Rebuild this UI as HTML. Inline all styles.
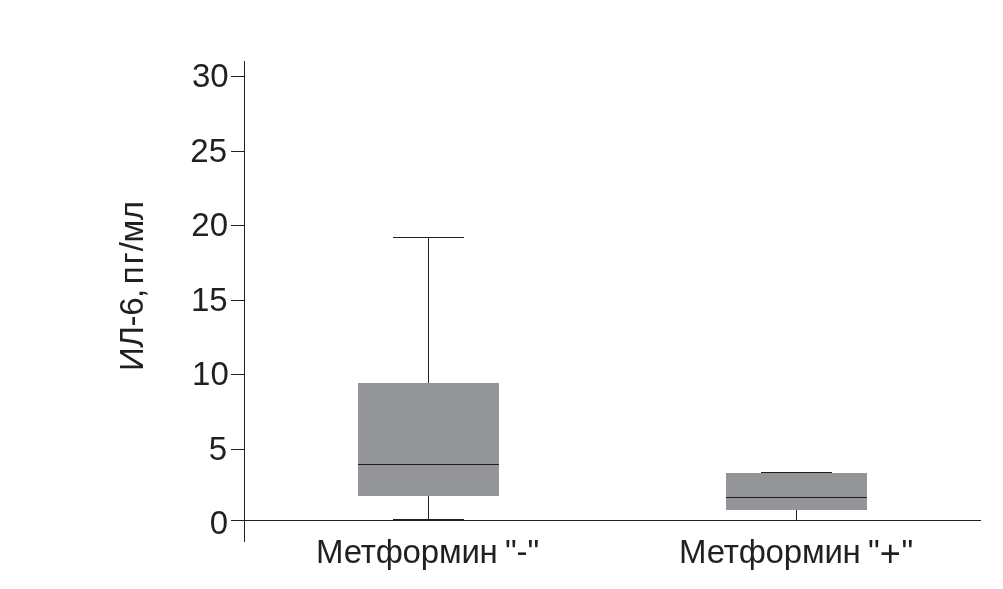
<!DOCTYPE html>
<html><head><meta charset="utf-8">
<style>
html,body{margin:0;padding:0;background:#fff;}
body{width:1003px;height:589px;position:relative;overflow:hidden;font-family:"Liberation Sans",sans-serif;color:#231f20;}
.t{position:absolute;white-space:nowrap;font-size:33px;line-height:1;filter:grayscale(1);}
.yl{text-align:right;}
svg{position:absolute;left:0;top:0;}
</style></head><body>
<svg width="1003" height="589" viewBox="0 0 1003 589" shape-rendering="crispEdges">
<g fill="#231f20">
<rect x="244" y="61" width="1" height="481"/>
<rect x="231" y="76" width="13" height="1"/>
<rect x="231" y="151" width="13" height="1"/>
<rect x="231" y="225" width="13" height="1"/>
<rect x="231" y="300" width="13" height="1"/>
<rect x="231" y="374" width="13" height="1"/>
<rect x="231" y="449" width="13" height="1"/>
<rect x="231" y="520" width="750" height="1"/>
</g>
<!-- box 1 -->
<rect x="358" y="383" width="141" height="113" fill="#939598"/>
<g fill="#231f20">
<rect x="428" y="237" width="1" height="146"/>
<rect x="393" y="237" width="71" height="1"/>
<rect x="358" y="464" width="141" height="1"/>
<rect x="428" y="496" width="1" height="24"/>
<rect x="393" y="519" width="71" height="1"/>
</g>
<!-- box 2 -->
<rect x="726" y="473" width="141" height="37" fill="#939598"/>
<g fill="#231f20">
<rect x="761" y="472" width="71" height="1"/>
<rect x="726" y="497" width="141" height="1"/>
<rect x="796" y="510" width="1" height="10"/>
</g>
</svg>
<div class="t yl" style="right:774.4px;top:59px">30</div>
<div class="t yl" style="right:776px;top:134px">25</div>
<div class="t yl" style="right:775px;top:208px">20</div>
<div class="t yl" style="right:775.3px;top:283px">15</div>
<div class="t yl" style="right:774.2px;top:357px">10</div>
<div class="t yl" style="right:776px;top:432px">5</div>
<div class="t yl" style="right:775px;top:506px">0</div>
<div class="t" id="xl1" style="left:316px;top:535px;word-spacing:-1.5px;letter-spacing:-0.2px">Метформин "-"</div>
<div class="t" id="xl2" style="left:679px;top:535px;word-spacing:-1.5px;letter-spacing:-0.2px">Метформин "<span style="position:relative;top:3px;font-size:36px;line-height:0;margin-right:1px">+</span>"</div>
<div class="t" id="yt" style="left:0px;top:0px;transform-origin:0 0;transform:translate(115px,371px) rotate(-90deg);letter-spacing:-0.4px">ИЛ-6,<span style="letter-spacing:-4.3px"> </span><span style="letter-spacing:2.2px">п</span><span style="letter-spacing:0.9px">г</span>/мл</div>
</body></html>
